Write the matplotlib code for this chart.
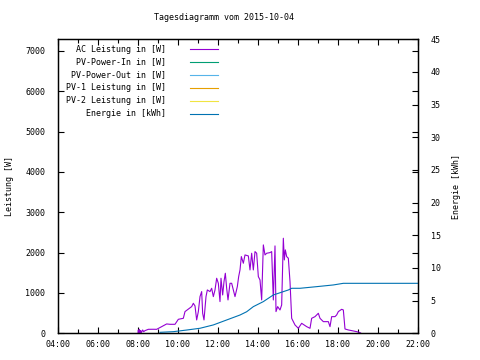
import matplotlib
matplotlib.use("Agg")
import matplotlib.pyplot as plt
import matplotlib.dates as mdates
import numpy as np
from datetime import datetime

plt.rcParams['font.family'] = ['DejaVu Sans Mono']
plt.rcParams['font.size'] = 6

day = "2015-10-04"

# AC Leistung [W]
ac_times = ["08:00", "08:01", "08:02", "08:04", "08:06", "08:08", "08:10", "08:14", "08:17",
            "08:21", "08:31", "08:45", "08:56", "09:11", "09:26", "09:36", "09:51", "10:01",
            "10:16", "10:21", "10:31", "10:41", "10:46", "10:51", "10:56", "11:01", "11:06",
            "11:11", "11:14", "11:18", "11:24", "11:28", "11:36", "11:41", "11:46", "11:51",
            "11:56", "12:01", "12:06", "12:09", "12:14", "12:18", "12:22", "12:26", "12:30",
            "12:36", "12:41", "12:46", "12:51", "12:58", "13:02", "13:06", "13:10", "13:16",
            "13:21", "13:31", "13:36", "13:41", "13:46", "13:51", "13:56", "14:01", "14:06",
            "14:11", "14:16", "14:21", "14:26", "14:36", "14:41", "14:46", "14:51", "14:54",
            "14:59", "15:06", "15:11", "15:16", "15:19", "15:22", "15:26", "15:31", "15:36",
            "15:41", "15:51", "16:01", "16:11", "16:26", "16:36", "16:41", "16:51", "17:01",
            "17:06", "17:16", "17:31", "17:36", "17:41", "17:51", "17:56", "18:01", "18:11",
            "18:16", "18:21", "18:31", "18:46", "18:56", "19:06", "19:09"]
ac_watts = [0, 80, 10, 99, 20, 70, 17, 83, 40,
            66, 99, 100, 99, 165, 232, 223, 223, 347,
            372, 538, 600, 662, 744, 678, 331, 538, 910,
            1034, 496, 331, 910, 1075, 1034, 1116, 910, 1075,
            1365, 1240, 786, 1365, 951, 1282, 1489, 1116, 827,
            1240, 1240, 1075, 910, 1158, 1406, 1571, 1902, 1737,
            1943, 1919, 1571, 1985, 1571, 2026, 1985, 1406, 1323,
            827, 2192, 1943, 1985, 2001, 2026, 827, 2167, 538,
            662, 579, 703, 2357, 1819, 2068, 1902, 1861, 1282,
            372, 207, 124, 248, 165, 124, 372, 413, 496,
            372, 289, 289, 165, 413, 413, 455, 538, 595,
            579, 107, 83, 58, 41, 17, 0]

# Energie [kWh]
en_times = ["09:06", "09:46", "10:26", "11:06", "11:46", "12:26", "13:06", "13:26", "13:46",
            "14:16", "14:46", "15:01", "15:16", "15:31", "15:41", "16:06", "16:56", "17:46",
            "18:16", "19:06", "22:00"]
en_kwh = [0.15, 0.25, 0.5, 0.77, 1.28, 2.04, 2.8, 3.3, 4.08,
          4.85, 5.87, 6.12, 6.38, 6.63, 6.89, 6.89, 7.14, 7.4,
          7.65, 7.65, 7.65]

legend_labels = ["AC Leistung in [W]", "PV-Power-In in [W]", "PV-Power-Out in [W]",
                 "PV-1 Leistung in [W]", "PV-2 Leistung in [W]", "Energie in [kWh]"]
legend_colors = ["#9400d3", "#009e73", "#56b4e9", "#e69f00", "#f0e442", "#0072b2"]


def to_dt(ts):
    return [datetime.strptime(day + " " + t, "%Y-%m-%d %H:%M") for t in ts]


fig = plt.figure(figsize=(4.8, 3.6), dpi=100)
ax = fig.add_axes([58 / 480, 1 - 333.3 / 360, 360 / 480, 294 / 360])
ax2 = ax.twinx()

lw = 0.8
ax.plot(to_dt(ac_times), ac_watts, color=legend_colors[0], lw=lw)
ax2.plot(to_dt(en_times), en_kwh, color=legend_colors[5], lw=lw)

ax.set_xlim(datetime(2015, 10, 4, 4, 0), datetime(2015, 10, 4, 22, 0))
ax.set_ylim(0, 7290)
ax2.set_ylim(0, 45)

ax.xaxis.set_major_locator(mdates.HourLocator(byhour=range(0, 24, 2)))
ax.xaxis.set_minor_locator(mdates.HourLocator())
ax.xaxis.set_major_formatter(mdates.DateFormatter("%H:%M"))
ax.set_yticks(range(0, 8000, 1000))
ax2.set_yticks(range(0, 50, 5))

ax.tick_params(axis='both', which='both', direction='in', top=True, right=True, width=0.8)
ax.tick_params(axis='both', which='major', length=4)
ax.tick_params(axis='x', which='minor', length=3)
ax.tick_params(axis='y', pad=9)
ax.tick_params(axis='x', pad=5)
ax2.tick_params(axis='y', direction='in', length=4, width=0.8, pad=9)

for a in (ax, ax2):
    for s in a.spines.values():
        s.set_linewidth(0.9)

ax.set_ylabel("Leistung [W]", labelpad=8)
ax2.set_ylabel("Energie [kWh]", labelpad=8)

fig.text(224 / 480, 1 - 18 / 360, "Tagesdiagramm vom " + day, ha='center', va='center')

# key, gnuplot style: right aligned text, sample line on the right
for i, (lab, col) in enumerate(zip(legend_labels, legend_colors)):
    yy = 1 - (49 + 12.9 * i - 39.3) / 294
    ax.text((166 - 58) / 360, yy, lab, transform=ax.transAxes, ha='right', va='center')
    ax.plot([(190 - 58) / 360, (218 - 58) / 360], [yy, yy], transform=ax.transAxes,
            color=col, lw=lw, clip_on=False)

fig.savefig("out.png", dpi=100)
